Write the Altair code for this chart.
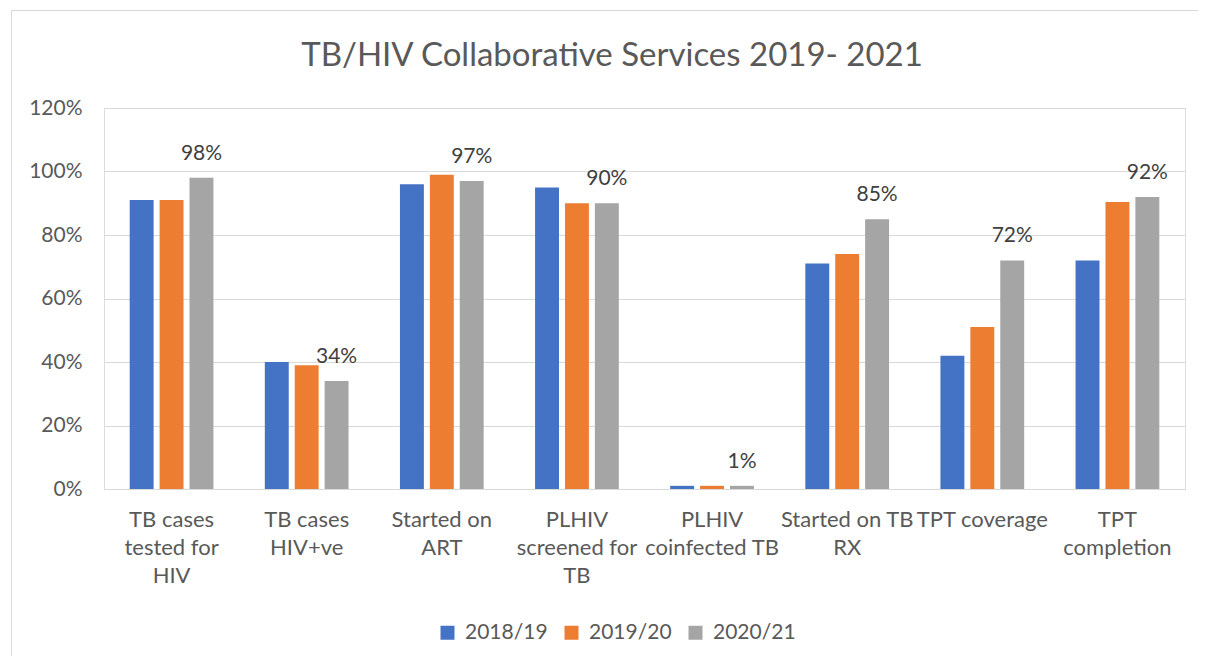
import altair as alt
import pandas as pd

title_text = "TB/HIV Collaborative Services 2019- 2021"
categories = [
    "TB cases|tested for|HIV",
    "TB cases|HIV+ve",
    "Started on|ART",
    "PLHIV|screened for|TB",
    "PLHIV|coinfected TB",
    "Started on TB|RX",
    "TPT coverage",
    "TPT|completion",
]
series_names = ["2018/19", "2019/20", "2020/21"]
v_2018_19 = [0.91, 0.40, 0.96, 0.95, 0.01, 0.71, 0.42, 0.72]
v_2019_20 = [0.91, 0.39, 0.99, 0.90, 0.01, 0.74, 0.51, 0.904]
v_2020_21 = [0.98, 0.34, 0.97, 0.90, 0.01, 0.85, 0.72, 0.92]
colors = ["#4472C4", "#ED7D31", "#A5A5A5"]
y_ticks = [0, 0.2, 0.4, 0.6, 0.8, 1.0, 1.2]

rows = []
for name, vals in zip(series_names, [v_2018_19, v_2019_20, v_2020_21]):
    for c, v in zip(categories, vals):
        rows.append({"category": c, "series": name, "value": v})
df = pd.DataFrame(rows)

FONT = "Lato"
TXT = "#595959"

x_enc = alt.X(
    "category:N",
    sort=categories,
    scale=alt.Scale(paddingInner=0.336, paddingOuter=0.168),
    axis=alt.Axis(
        title=None,
        labelAngle=0,
        labelExpr="split(datum.label, '|')",
        labelLineHeight=28,
        labelFontSize=22,
        labelColor=TXT,
        labelFont=FONT,
        labelPadding=20,
        ticks=False,
        tickSize=0,
        domainColor="#D9D9D9",
        domainWidth=1,
        labelLimit=300,
    ),
)
xoff_enc = alt.XOffset(
    "series:N",
    sort=series_names,
    scale=alt.Scale(domain=series_names, paddingInner=0.2, paddingOuter=0.1),
)
y_enc = alt.Y(
    "value:Q",
    scale=alt.Scale(domain=[0, 1.2], nice=False),
    axis=alt.Axis(
        title=None,
        values=y_ticks,
        format=".0%",
        labelFontSize=21,
        labelColor=TXT,
        labelFont=FONT,
        labelPadding=22,
        ticks=False,
        tickSize=0,
        domain=False,
        gridColor="#D9D9D9",
        gridWidth=1,
    ),
)

bars = alt.Chart(df).mark_bar().encode(
    x=x_enc,
    xOffset=xoff_enc,
    y=y_enc,
    color=alt.Color(
        "series:N",
        sort=series_names,
        scale=alt.Scale(domain=series_names, range=colors),
        legend=alt.Legend(
            title=None,
            orient="none",
            direction="horizontal",
            legendX=333,
            legendY=514,
            symbolType="square",
            symbolSize=196,
            symbolStrokeWidth=0,
            labelFontSize=21,
            labelFont=FONT,
            labelColor=TXT,
            labelOffset=7,
            columnPadding=13,
        ),
    ),
)

labels = (
    alt.Chart(df)
    .transform_filter(alt.datum.series == "2020/21")
    .mark_text(baseline="bottom", dy=-14, fontSize=21, font=FONT, color="#404040")
    .encode(
        x=alt.X("category:N", sort=categories),
        xOffset=alt.XOffset("series:N", sort=series_names),
        y=alt.Y("value:Q"),
        text=alt.Text("value:Q", format=".0%"),
    )
)

frame = (
    alt.Chart(alt.Data(values=[{"k": 1}]))
    .mark_rect(fillOpacity=0, stroke="#D9D9D9", strokeWidth=1, clip=False)
    .encode(
        x=alt.value(-92.5),
        x2=alt.value(1200),
        y=alt.value(-97.5),
        y2=alt.value(700),
    )
)

title = (
    alt.Chart(alt.Data(values=[{"t": title_text}]))
    .mark_text(fontSize=33, font=FONT, color=TXT, baseline="middle", align="center")
    .encode(text="t:N", x=alt.value(508), y=alt.value(-52))
)

chart = (
    alt.layer(frame, bars, labels, title)
    .properties(
        width=1081,
        height=381,
        padding={"left": 96, "top": 100, "right": 13, "bottom": 167},
        autosize=alt.AutoSizeParams(type="none"),
    )
    .configure_view(stroke=None)
    .configure(background="white")
)

chart.save("out.html", embed_options={"renderer": "svg", "actions": False})
